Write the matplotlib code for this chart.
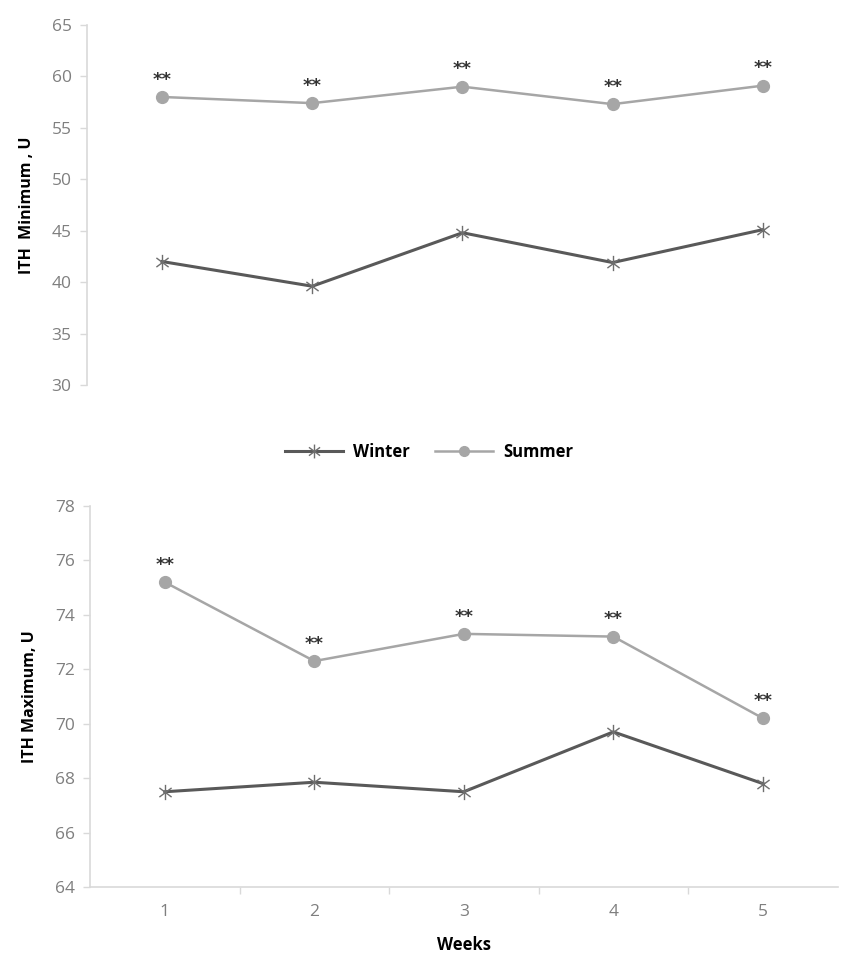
import matplotlib

matplotlib.use("Agg")
import matplotlib.pyplot as plt
from matplotlib.lines import Line2D
from matplotlib.path import Path

plt.rcParams["font.family"] = ["Open Sans", "DejaVu Sans"]

weeks = [1, 2, 3, 4, 5]
week_labels = ["1", "2", "3", "4", "5"]

min_winter = [42.0, 39.6, 44.8, 41.9, 45.1]
min_summer = [58.0, 57.4, 59.0, 57.3, 59.1]

max_winter = [67.5, 67.85, 67.5, 69.7, 67.8]
max_summer = [75.2, 72.3, 73.3, 73.2, 70.2]

min_ticks = [30, 35, 40, 45, 50, 55, 60, 65]
max_ticks = [64, 66, 68, 70, 72, 74, 76, 78]

WINTER = "#595959"
SUMMER = "#a6a6a6"
SPINE = "#d9d9d9"
TICK_TEXT = "#7f7f7f"

# excel-style star: vertical bar plus an x
star = Path(
    [(0, -1), (0, 1), (-0.8, -0.6), (0.8, 0.6), (-0.8, 0.6), (0.8, -0.6)],
    [Path.MOVETO, Path.LINETO, Path.MOVETO, Path.LINETO, Path.MOVETO, Path.LINETO],
)


def draw_panel(ax, winter, summer, ticks, ylabel, show_x):
    ax.plot(weeks, winter, color=WINTER, lw=2.2, marker=star, ms=11,
            mew=1.0, mec="#6e6e6e", zorder=3)
    ax.plot(weeks, summer, color=SUMMER, lw=1.8, marker="o", ms=8.5,
            mfc=SUMMER, mec=SUMMER, zorder=3)
    for x, y in zip(weeks, summer):
        ax.annotate("**", (x, y), xytext=(0, 6), textcoords="offset points",
                    ha="center", va="bottom", fontsize=13, fontweight="bold",
                    color="#333333", family="DejaVu Sans")

    ax.set_xlim(0.5, 5.5)
    ax.set_ylim(ticks[0], ticks[-1])
    ax.set_yticks(ticks)
    ax.tick_params(axis="y", colors=SPINE, labelcolor=TICK_TEXT, labelsize=12.5,
                   length=5, width=1, pad=6)
    for side in ("top", "right"):
        ax.spines[side].set_visible(False)
    ax.spines["left"].set_color(SPINE)
    ax.spines["bottom"].set_color(SPINE)
    ax.spines["left"].set_linewidth(1.2)
    ax.spines["bottom"].set_linewidth(1.2)

    if show_x:
        ax.set_xticks([1.5, 2.5, 3.5, 4.5])
        ax.set_xticks(weeks, minor=True)
        ax.set_xticklabels([])
        ax.set_xticklabels(week_labels, minor=True)
        ax.tick_params(axis="x", which="major", colors=SPINE, length=5, width=1)
        ax.tick_params(axis="x", which="minor", length=0, labelcolor=TICK_TEXT,
                       labelsize=12.5, pad=12)
        ax.set_xlabel("Weeks", fontsize=12, fontweight="bold", labelpad=12)
    else:
        ax.spines["bottom"].set_visible(False)
        ax.set_xticks([])

    ax.set_ylabel(ylabel, fontsize=11.5, fontweight="bold", labelpad=12)


fig = plt.figure(figsize=(8.41, 9.6), dpi=100)
ax_min = fig.add_axes([0.1034, 0.599, 0.893, 0.375])
ax_max = fig.add_axes([0.107, 0.076, 0.889, 0.397])

draw_panel(ax_min, min_winter, min_summer, min_ticks, "ITH  Minimum , U", False)
draw_panel(ax_max, max_winter, max_summer, max_ticks, "ITH Maximum, U", True)

handles = [
    Line2D([], [], color=WINTER, lw=2.2, marker=star, ms=10, mew=1.0, mec="#6e6e6e"),
    Line2D([], [], color=SUMMER, lw=1.8, marker="o", ms=7),
]
leg = fig.legend(handles, ["Winter", "Summer"], loc="center",
                 bbox_to_anchor=(0.51, 0.529), ncol=2, frameon=False,
                 handlelength=3.5, columnspacing=1.5, handletextpad=0.6,
                 prop={"weight": "bold", "size": 12})

fig.savefig("out.png", dpi=100)
